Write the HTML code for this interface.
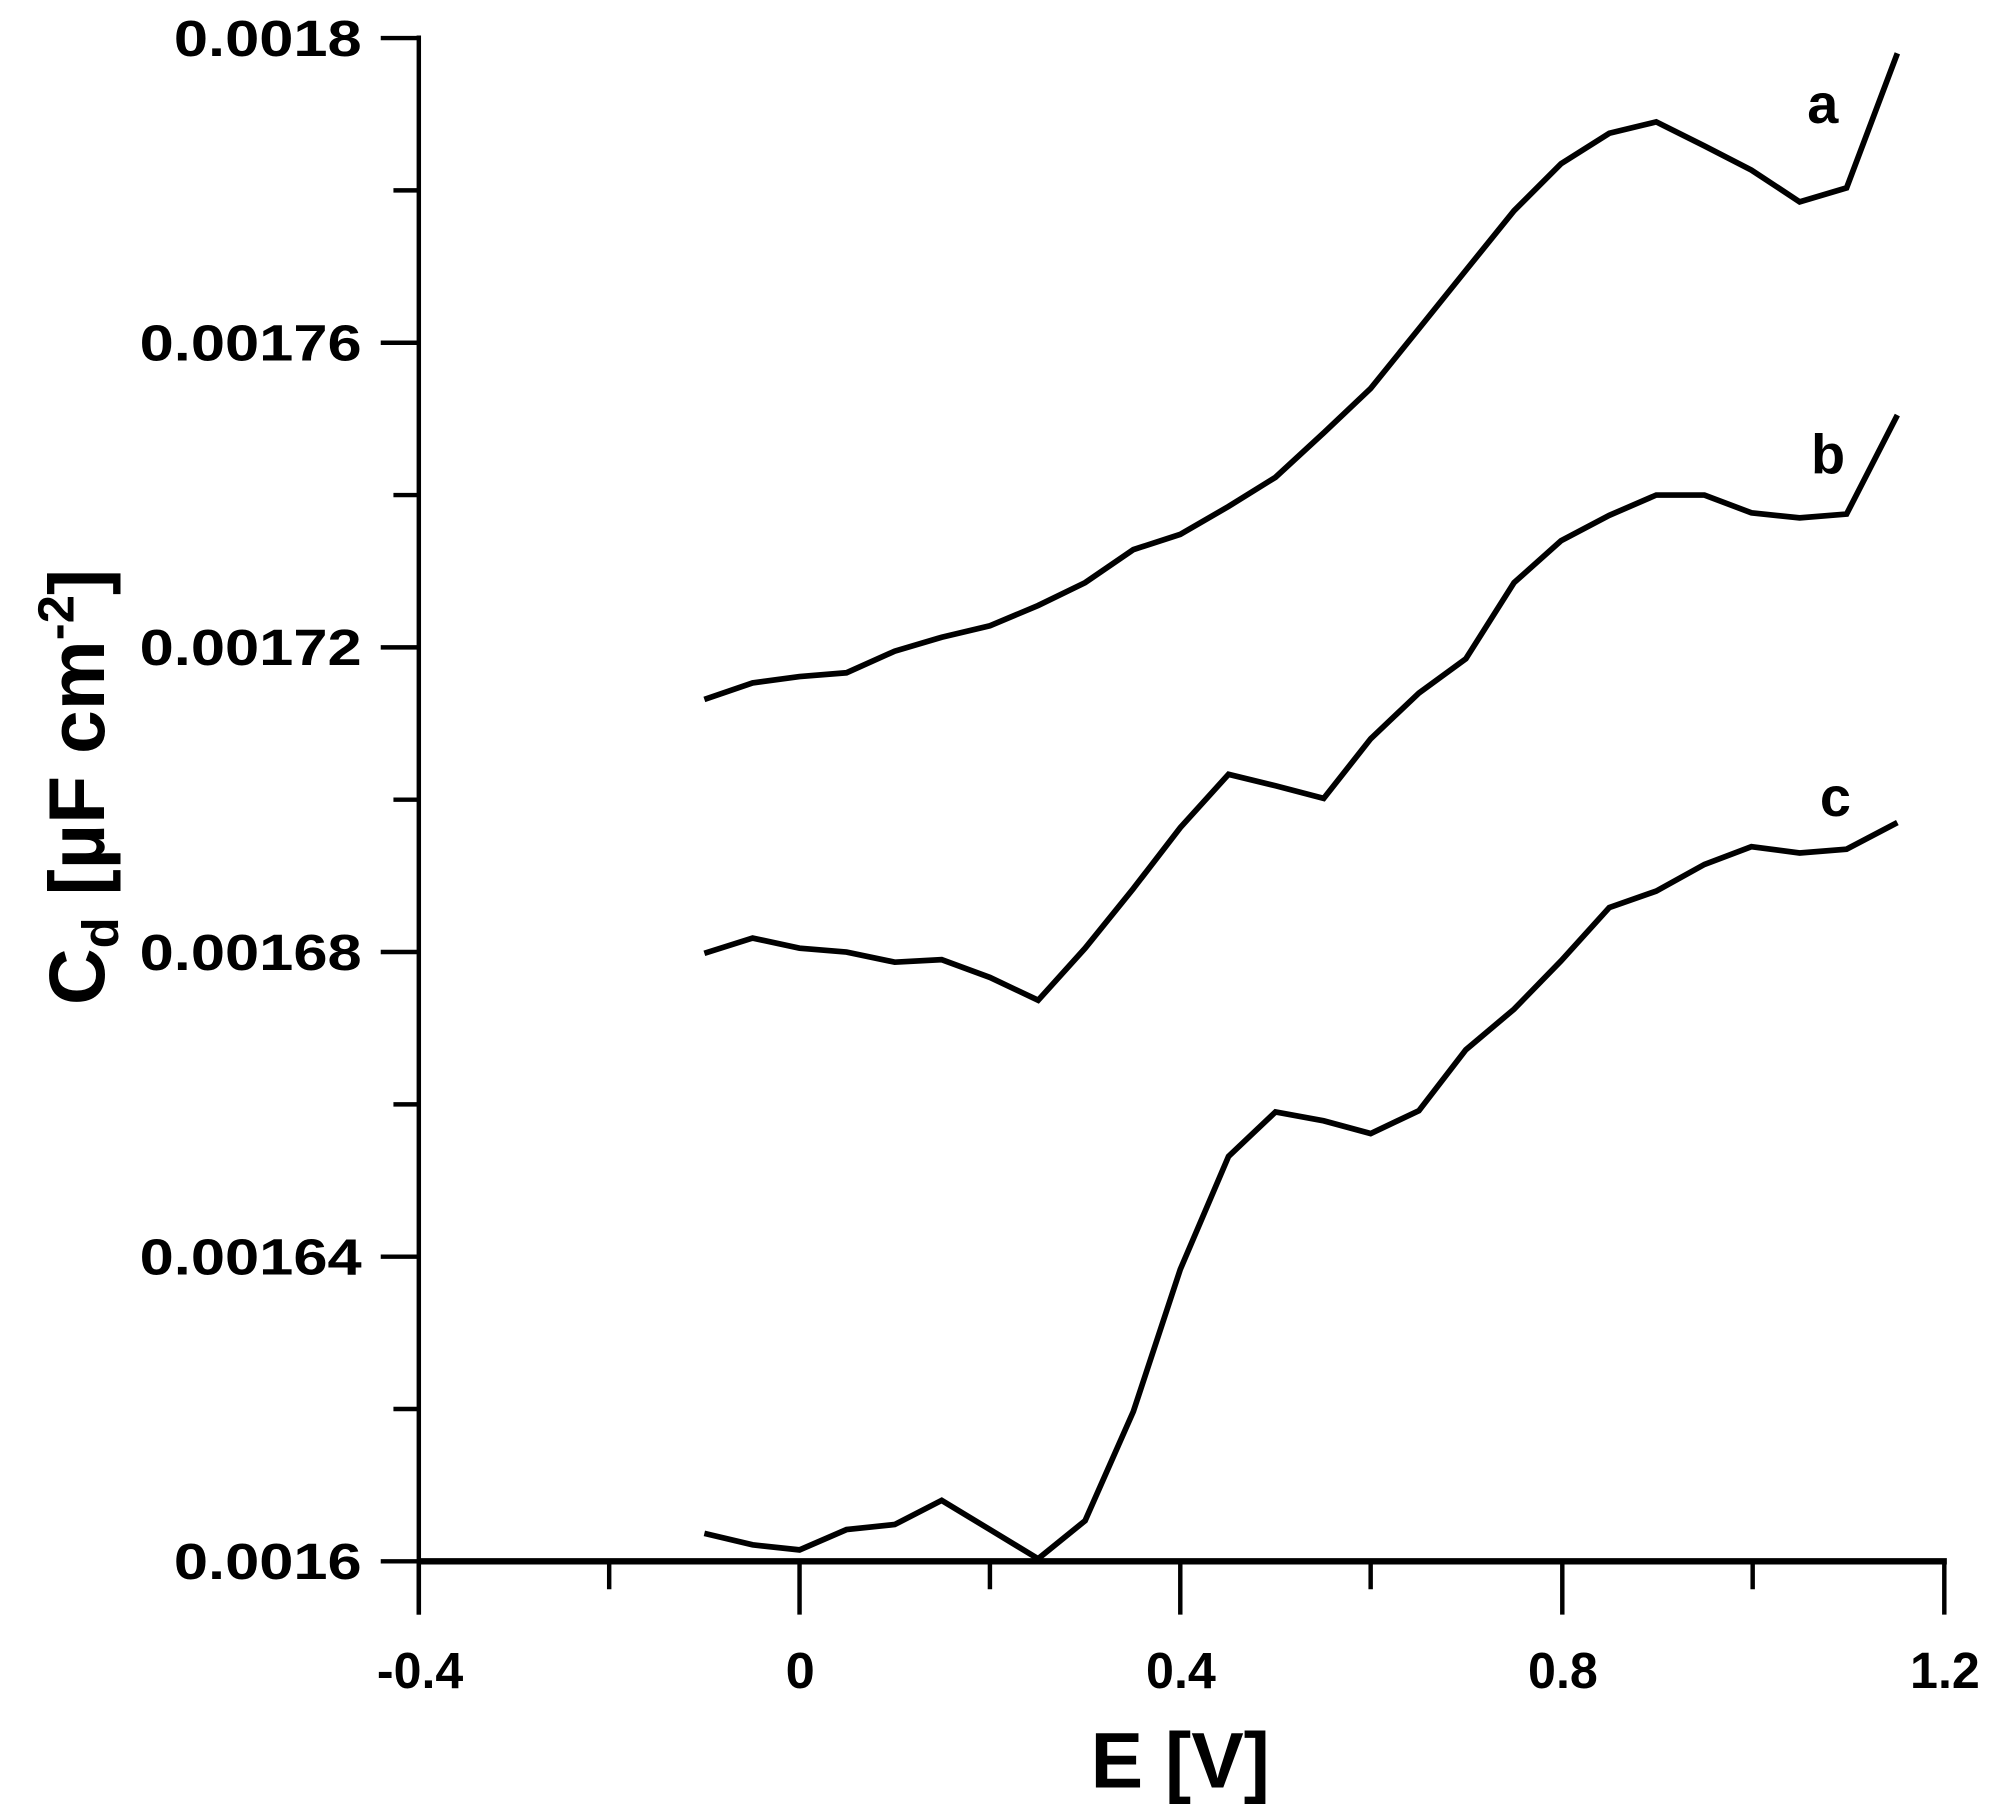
<!DOCTYPE html>
<html><head><meta charset="utf-8"><style>html,body{margin:0;padding:0;background:#fff}svg{display:block}</style></head>
<body>
<svg width="1990" height="1819" viewBox="0 0 1568 1433" preserveAspectRatio="none" xmlns="http://www.w3.org/2000/svg" font-family="Liberation Sans, sans-serif" font-weight="bold">
<g stroke="#000" stroke-width="3.5" fill="none">
<line x1="330" y1="28" x2="330" y2="1272"/>
<line x1="330" y1="1230" x2="1534" y2="1230" stroke-width="5"/>
<path d="M300 30H330M300 270H330M300 510H330M300 750H330M300 990H330M300 1230H330M310 150H330M310 390H330M310 630H330M310 870H330M310 1110H330"/>
<path d="M330 1230V1272M630 1230V1272M930 1230V1272M1231 1230V1272M1532 1230V1272M480 1230V1252M780 1230V1252M1080 1230V1252M1381 1230V1252"/>
</g>
<g stroke="#000" stroke-width="4.5" fill="none" stroke-linejoin="miter">
<polyline points="555,551 593,538 630,533 667,530 705,513 742,502 780,493 818,477 855,459 893,433 930,421 968,399 1005,376 1043,341 1080,306 1118,259 1155,213 1193,166 1230,129 1268,105 1305,96 1343,115 1380,134 1418,159 1455,148 1495,42"/>
<polyline points="555,751 593,739 630,747 667,750 705,758 742,756 780,770 818,788 855,747 893,700 930,652 968,610 1005,619 1043,629 1080,582 1118,546 1155,519 1193,459 1230,426 1268,406 1305,390 1343,390 1380,404 1418,408 1455,405 1495,327"/>
<polyline points="555,1208 593,1217 630,1221 667,1205 705,1201 742,1182 780,1205 818,1228 855,1198 893,1112 930,1000 968,911 1005,876 1043,883 1080,893 1118,875 1155,827 1193,795 1230,757 1268,715 1305,702 1343,681 1380,667 1418,672 1455,669 1495,648"/>
</g>
<g font-size="40">
<text x="137" y="44" textLength="148" lengthAdjust="spacingAndGlyphs">0.0018</text>
<text x="110" y="284" textLength="175" lengthAdjust="spacingAndGlyphs">0.00176</text>
<text x="110" y="524" textLength="175" lengthAdjust="spacingAndGlyphs">0.00172</text>
<text x="110" y="764" textLength="175" lengthAdjust="spacingAndGlyphs">0.00168</text>
<text x="110" y="1004" textLength="175" lengthAdjust="spacingAndGlyphs">0.00164</text>
<text x="137" y="1244" textLength="148" lengthAdjust="spacingAndGlyphs">0.0016</text>
</g>
<g font-size="40">
<text x="297" y="1330" textLength="68" lengthAdjust="spacingAndGlyphs">-0.4</text>
<text x="619" y="1330" textLength="23" lengthAdjust="spacingAndGlyphs">0</text>
<text x="903" y="1330" textLength="55" lengthAdjust="spacingAndGlyphs">0.4</text>
<text x="1204" y="1330" textLength="55" lengthAdjust="spacingAndGlyphs">0.8</text>
<text x="1505" y="1330" textLength="55" lengthAdjust="spacingAndGlyphs">1.2</text>
</g>
<text x="930" y="1408" font-size="62" text-anchor="middle">E [V]</text>
<text transform="translate(82,620) rotate(-90)" font-size="62" text-anchor="middle">C<tspan font-size="40" dy="11">d</tspan><tspan dy="-11"> [µF cm</tspan><tspan font-size="40" dy="-24">-2</tspan><tspan dy="24">]</tspan></text>
<g font-size="44">
<text x="1424" y="97">a</text>
<text x="1427" y="373">b</text>
<text x="1434" y="643">c</text>
</g>
</svg>
</body></html>
